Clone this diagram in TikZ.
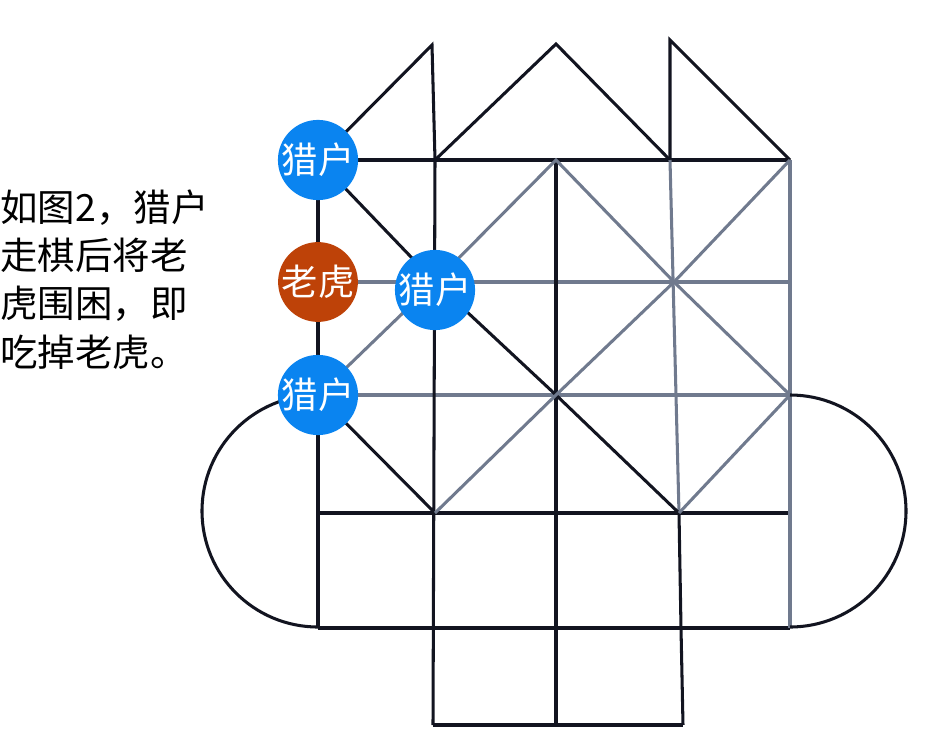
\documentclass[tikz,border=0pt]{standalone}
\usepackage{fontspec}
\newfontfamily\cjk{Noto Sans CJK SC}
\definecolor{hunterblue}{RGB}{10,132,240}
\definecolor{tigerred}{RGB}{190,66,8}
\definecolor{darkline}{RGB}{18,20,32}
\definecolor{faintline}{RGB}{112,122,142}

\begin{document}
\begin{tikzpicture}[x=0.03cm,y=-0.03cm,
		board/.style={line width=2.6pt, darkline},
		faint/.style={line width=2.6pt, faintline},
		piece/.style={circle, minimum size=2.3cm, inner sep=0pt, text=white, font=\cjk\fontsize{31}{31}\selectfont},
		hunter/.style={piece, fill=hunterblue},
		tiger/.style={piece, fill=tigerred}]
			\useasboundingbox (0,0) rectangle (941,730);
			% lattice points
			\foreach \c/\x in {A/318,B/435,C/556,D/674,E/790}
				\foreach \r/\y in {1/160,2/282,3/395,4/513,5/628,6/725}
					\coordinate (\c\r) at (\x,\y);
			\coordinate (D1) at (670,160);
			\coordinate (D4) at (679,513);
			\coordinate (D5) at (681,628);
			\coordinate (D6) at (683,725);
			\coordinate (B6) at (433,725);
			\coordinate (T1) at (432,45);
			\coordinate (T2) at (556,44);
			\coordinate (T3) at (670,40);
			% top triangles
			\draw[board] (A1)--(T1)--(B1);
			\draw[board] (B1)--(T2)--(D1);
			\draw[board] (D1)--(T3)--(E1);
			% grid
			\draw[board] (A1)--(E1);
			\draw[faint] (A2)--(E2);
			\draw[faint] (A3)--(E3);
			\draw[board] (A4)--(E4);
			\draw[board] (A5)--(E5);
			\draw[board] (B6)--(D6);
			\draw[board] (A1)--(A5);
			\draw[board] (B1)--(B6);
			\draw[board] (C1)--(C6);
			\draw[faint] (D1)--(D4);
			\draw[board] (D4)--(D5)--(D6);
			\draw[faint] (E1)--(E5);
			% diagonals
			\draw[board] (A1)--(B2)--(C3)--(D4);
			\draw[board] (A3)--(B4);
			\draw[faint] (A3)--(B2)--(C1)--(D2)--(E3);
			\draw[faint] (B4)--(C3)--(D2)--(E1);
			\draw[faint] (D4)--(E3);
			% half circles
			\draw[board] (A3) arc[start angle=90, end angle=270, radius=3.48cm];
			\draw[board] (E3) arc[start angle=90, end angle=-90, radius=3.48cm];
			% pieces
			\node[hunter] (h1) at (A1) {猎户};
			\node[tiger] (tg) at (A2) {老虎};
			\node[hunter] (h2) at (435,290) {猎户};
			\node[hunter] (h3) at (A3) {猎户};
			\node[anchor=north west, align=left, inner sep=0pt, font=\cjk\fontsize{32}{41}\selectfont] (txt) at (0,190) {如图2，猎户\\走棋后将老\\虎围困，即\\吃掉老虎。};
		\end{tikzpicture}
\end{document}
